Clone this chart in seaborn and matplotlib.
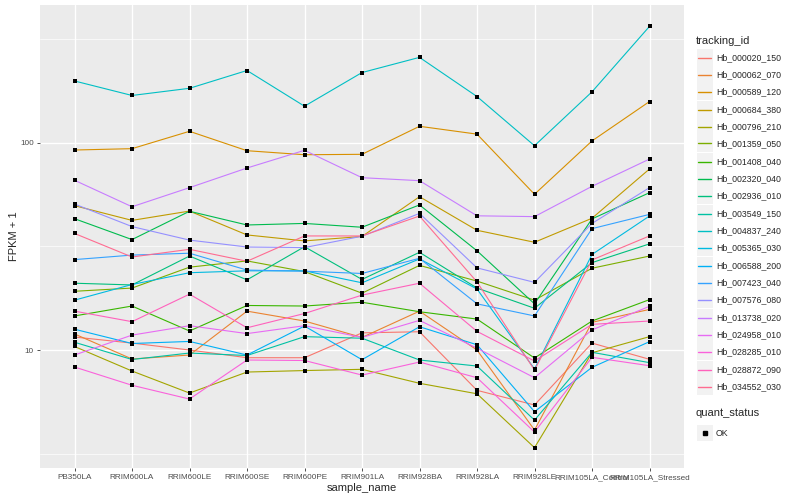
import matplotlib
matplotlib.use("Agg")
import matplotlib.pyplot as plt
from matplotlib.lines import Line2D
from matplotlib.patches import Rectangle
import seaborn as sns
import pandas as pd

samples = ["PB350LA", "RRIM600LA", "RRIM600LE", "RRIM600SE", "RRIM600PE", "RRIM901LA",
           "RRIM928BA", "RRIM928LA", "RRIM928LE", "RRIM105LA_Control", "RRIM105LA_Stressed"]

tracking_ids = ["Hb_000020_150", "Hb_000062_070", "Hb_000589_120", "Hb_000684_380",
                "Hb_000796_210", "Hb_001359_050", "Hb_001408_040", "Hb_002320_040",
                "Hb_002936_010", "Hb_003549_150", "Hb_004837_240", "Hb_005365_030",
                "Hb_006588_200", "Hb_007423_040", "Hb_007576_080", "Hb_013738_020",
                "Hb_024958_010", "Hb_028285_010", "Hb_028872_090", "Hb_034552_030"]

# ggplot default hue palette for 20 levels
colors = ["#F8766D", "#EA8331", "#D89000", "#C09B00", "#A3A500", "#7CAE00", "#39B600",
          "#00BB4E", "#00BF7D", "#00C1A3", "#00BFC4", "#00BAE0", "#00B0F6", "#35A2FF",
          "#9590FF", "#C77CFF", "#E76BF3", "#FA62DB", "#FF62BC", "#FF6C91"]

# FPKM + 1, one list per gene, in sample order
hb_000020_150 = [11.55, 10.8, 10.0, 9.18, 9.18, 12.1, 12.25, 6.39, 5.43, 10.8, 9.02]
hb_000062_070 = [11.95, 9.05, 9.46, 15.4, 13.8, 11.5, 15.4, 10.0, 4.11, 13.6, 15.7]
hb_000589_120 = [92.2, 93.6, 113.5, 91.5, 87.5, 87.9, 120, 110, 56.4, 102, 158]
hb_000684_380 = [49.7, 42.2, 46.8, 35.9, 33.6, 35.3, 54.9, 37.8, 33.1, 43.2, 74.7]
hb_000796_210 = [10.4, 7.92, 6.2, 7.83, 7.96, 8.07, 6.91, 6.15, 3.38, 9.7, 11.6]
hb_001359_050 = [19.2, 19.9, 25.1, 26.9, 23.9, 18.8, 25.6, 21.5, 17.4, 24.8, 28.4]
hb_001408_040 = [14.6, 16.3, 12.35, 16.4, 16.3, 17.0, 15.3, 14.1, 9.15, 13.8, 17.5]
hb_002320_040 = [43.0, 34.1, 46.7, 40.1, 40.8, 39.1, 50.1, 30.1, 16.7, 42.9, 57.4]
hb_002936_010 = [21.0, 20.6, 28.4, 21.8, 31.5, 21.9, 29.6, 19.9, 15.9, 26.4, 32.5]
hb_003549_150 = [10.9, 9.0, 9.67, 9.41, 11.6, 11.4, 8.95, 8.37, 4.59, 9.75, 8.69]
hb_004837_240 = [198.5, 169, 183, 223, 150, 218, 258, 167, 96.7, 176, 364]
hb_005365_030 = [17.4, 20.7, 23.6, 24.1, 24.1, 21.1, 27.5, 19.7, 8.1, 28.9, 44.3]
hb_006588_200 = [12.6, 10.75, 11.0, 9.46, 13.05, 8.98, 12.95, 10.6, 5.04, 8.25, 10.97]
hb_007423_040 = [27.3, 28.7, 29.3, 24.3, 24.0, 23.4, 27.7, 16.7, 14.6, 38.5, 45.1]
hb_007576_080 = [50.6, 39.4, 33.9, 31.4, 31.2, 35.4, 45.6, 24.9, 21.2, 40.8, 60.7]
hb_013738_020 = [65.9, 49.1, 60.7, 75.5, 91.9, 67.8, 65.6, 44.4, 44.0, 61.6, 83.4]
hb_024958_010 = [9.46, 11.8, 13.1, 12.0, 13.1, 11.5, 13.9, 10.2, 7.35, 12.5, 16.25]
hb_028285_010 = [8.28, 6.76, 5.8, 8.95, 8.9, 7.57, 8.75, 7.35, 4.02, 9.22, 8.4]
hb_028872_090 = [15.4, 13.7, 18.6, 12.8, 15.0, 18.4, 21.0, 12.3, 8.85, 13.3, 13.8]
hb_034552_030 = [36.5, 28.1, 30.6, 26.8, 35.5, 35.5, 44.3, 21.3, 8.0, 27.2, 35.5]

series = [hb_000020_150, hb_000062_070, hb_000589_120, hb_000684_380, hb_000796_210,
          hb_001359_050, hb_001408_040, hb_002320_040, hb_002936_010, hb_003549_150,
          hb_004837_240, hb_005365_030, hb_006588_200, hb_007423_040, hb_007576_080,
          hb_013738_020, hb_024958_010, hb_028285_010, hb_028872_090, hb_034552_030]

rows = []
for tid, vals in zip(tracking_ids, series):
    for i, v in enumerate(vals):
        rows.append({"tracking_id": tid, "pos": i, "sample_name": samples[i], "fpkm": v})
df = pd.DataFrame(rows)

sns.set_style("darkgrid", {"axes.facecolor": "#EBEBEB", "grid.color": "white"})
plt.rcParams["font.family"] = ["Liberation Sans", "DejaVu Sans"]

W, H = 800, 500
fig = plt.figure(figsize=(8, 5), dpi=100)
ax = fig.add_axes([40 / W, 1 - 468 / H, (684 - 40) / W, (468 - 5) / H])

sns.lineplot(data=df, x="pos", y="fpkm", hue="tracking_id", hue_order=tracking_ids,
             palette=colors, linewidth=0.8, errorbar=None, legend=False, ax=ax)
sns.scatterplot(data=df, x="pos", y="fpkm", color="black", marker="s", s=8,
                linewidth=0, legend=False, ax=ax, zorder=3)

ax.set_yscale("log")
ax.set_ylim(2.697, 461.6)
ax.set_xlim(-0.6, 10.6)
ax.set_yticks([10, 100])
ax.set_yticklabels(["10", "100"])
ax.set_yticks([10 ** 0.5, 10 ** 1.5, 10 ** 2.5], minor=True)
ax.set_xticks(range(len(samples)))
ax.set_xticklabels(samples)
ax.grid(True, which="major", color="white", linewidth=1.0)
ax.grid(True, which="minor", color="white", linewidth=0.5)
ax.tick_params(which="major", length=2.5, width=0.6, color="#333333", labelcolor="#4D4D4D",
               labelsize=5.9, pad=2, left=True, bottom=True)
ax.tick_params(which="minor", length=0)
for s in ax.spines.values():
    s.set_visible(False)
ax.set_xlabel("sample_name", fontsize=8, labelpad=1)
ax.set_ylabel("FPKM + 1", fontsize=8, labelpad=1)


def fx(x):
    return x / W


def fy(y):
    return 1 - y / H


# legend: tracking_id
fig.text(fx(696), fy(40.5), "tracking_id", fontsize=8, va="center", ha="left")
for i, (tid, c) in enumerate(zip(tracking_ids, colors)):
    yc = round(56.7 + 17.33 * i) + 0.5
    fig.add_artist(Rectangle((fx(696.5), fy(yc + 8.2)), 16.5 / W, 16.4 / H,
                             transform=fig.transFigure, facecolor="#F2F2F2", edgecolor="none"))
    fig.add_artist(Line2D([fx(698), fx(711)], [fy(yc), fy(yc)], color=c, linewidth=1.0,
                          transform=fig.transFigure))
    fig.text(fx(716), fy(yc), tid, fontsize=6.3, va="center", ha="left")

# legend: quant_status
fig.text(fx(696), fy(413), "quant_status", fontsize=8, va="center", ha="left")
yc = 433
fig.add_artist(Rectangle((fx(696.5), fy(yc + 8.2)), 16.5 / W, 16.4 / H,
                         transform=fig.transFigure, facecolor="#F2F2F2", edgecolor="none"))
fig.add_artist(Line2D([fx(704.7)], [fy(yc)], color="black", marker="s", markersize=2.8,
                      linestyle="none", transform=fig.transFigure))
fig.text(fx(716), fy(yc), "OK", fontsize=6.3, va="center", ha="left")

fig.savefig("out.png", dpi=100)
